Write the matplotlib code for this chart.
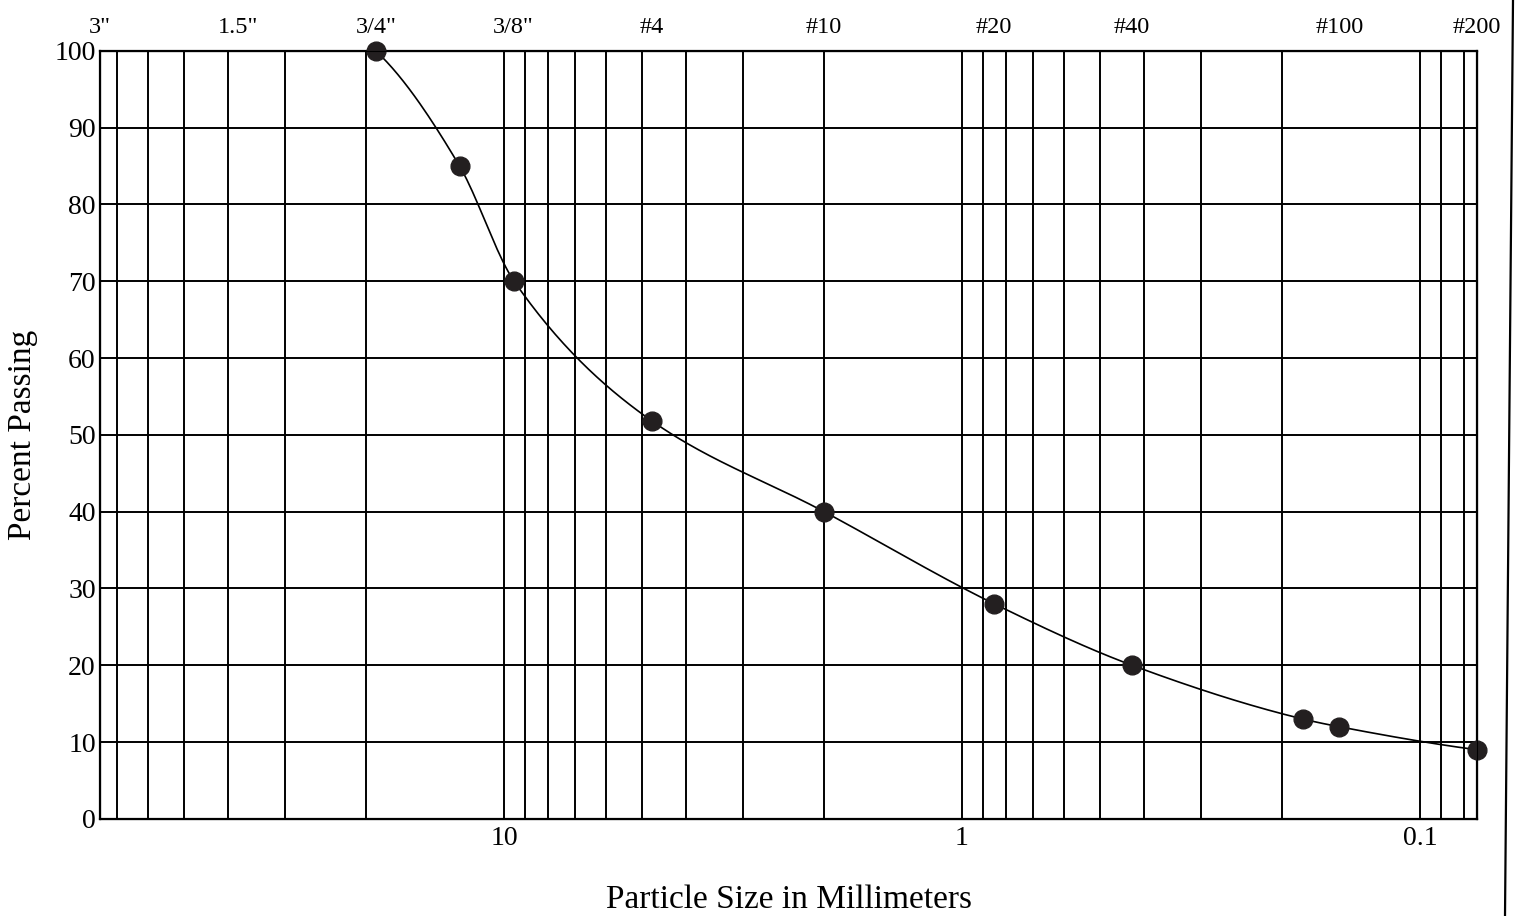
import matplotlib
matplotlib.use('Agg')
import matplotlib.pyplot as plt
import numpy as np
from matplotlib.lines import Line2D

plt.rcParams['font.family'] = ['Liberation Serif', 'DejaVu Serif']

# sieve analysis data (particle size in mm, percent passing)
sizes = [19.05, 12.5, 9.5, 4.75, 2.0, 0.85, 0.425, 0.18, 0.15, 0.075]
passing = [100, 85, 70, 51.8, 40, 28, 20, 13, 12, 9]

# sieve designations shown on top
sieve_sizes = [76.2, 38.1, 19.05, 9.525, 4.75, 2.0, 0.85, 0.425, 0.15, 0.075]
sieve_labels = ['3"', '1.5"', '3/4"', '3/8"', '#4', '#10', '#20', '#40', '#100', '#200']

x_ticks = [10, 1, 0.1]
x_ticklabels = ['10', '1', '0.1']
y_ticks = list(range(0, 101, 10))


def pchip(x, y, xn):
    # monotone cubic (Fritsch-Carlson) so the curve doesn't overshoot
    x = np.asarray(x, float)
    y = np.asarray(y, float)
    h = np.diff(x)
    d = np.diff(y) / h
    m = np.zeros_like(y)
    for k in range(1, len(x) - 1):
        if d[k - 1] * d[k] > 0:
            w1 = 2 * h[k] + h[k - 1]
            w2 = h[k] + 2 * h[k - 1]
            m[k] = (w1 + w2) / (w1 / d[k - 1] + w2 / d[k])
    m[0] = ((2 * h[0] + h[1]) * d[0] - h[0] * d[1]) / (h[0] + h[1])
    if np.sign(m[0]) != np.sign(d[0]):
        m[0] = 0
    m[-1] = ((2 * h[-1] + h[-2]) * d[-1] - h[-1] * d[-2]) / (h[-1] + h[-2])
    if np.sign(m[-1]) != np.sign(d[-1]):
        m[-1] = 0
    idx = np.clip(np.searchsorted(x, xn) - 1, 0, len(x) - 2)
    t = (xn - x[idx]) / h[idx]
    h00 = 2 * t**3 - 3 * t**2 + 1
    h10 = t**3 - 2 * t**2 + t
    h01 = -2 * t**3 + 3 * t**2
    h11 = t**3 - t**2
    return (h00 * y[idx] + h10 * h[idx] * m[idx]
            + h01 * y[idx + 1] + h11 * h[idx] * m[idx + 1])


fig = plt.figure(figsize=(15.2, 9.16), dpi=100)
ax = fig.add_axes([0.0658, 0.106, 0.906, 0.8385])

# smooth curve in log space
t = -np.log10(sizes)
tn = np.linspace(t[0], t[-1], 400)
ax.plot(10 ** (-tn), pchip(t, passing, tn), color='black', lw=1.2, zorder=3)
ax.plot(sizes, passing, 'o', ms=13.5, color='#231f20', zorder=4, clip_on=False)

ax.set_xscale('log')
ax.set_xlim(76.2, 0.075)
ax.set_ylim(0, 100)
ax.set_xticks(x_ticks, x_ticklabels)
ax.set_yticks(y_ticks)
ax.grid(True, which='both', axis='x', color='black', lw=1.4)
ax.grid(True, which='major', axis='y', color='black', lw=1.4)
ax.tick_params(which='both', length=0, labelsize=20)
ax.tick_params(axis='x', pad=5)
ax.tick_params(axis='y', pad=3)
for s in ax.spines.values():
    s.set_linewidth(1.6)

ax.set_xlabel('Particle Size in Millimeters', fontsize=24, labelpad=24)
ax.set_ylabel('Percent Passing', fontsize=24, labelpad=12)

top = ax.twiny()
top.set_xscale('log')
top.set_xlim(ax.get_xlim())
top.set_xticks(sieve_sizes, sieve_labels)
top.minorticks_off()
top.tick_params(length=0, labelsize=17.5, pad=9)

# page edge from the scan
fig.add_artist(Line2D([1513 / 1520, 1505 / 1520], [1, 0], color='black', lw=1.6))

fig.savefig('out.png', dpi=100)
